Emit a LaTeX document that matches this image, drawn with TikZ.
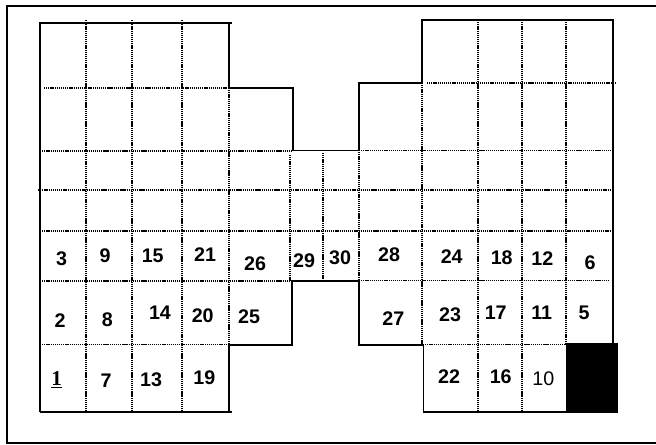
\documentclass[tikz,border=0pt]{standalone}
\usepackage{fontspec}
\setmainfont{Liberation Sans}
\newfontfamily\numserif{Liberation Serif}
\tikzset{
  wall/.style={line width=1.1pt},
  grid line/.style={line width=1.4pt, dash pattern=on 0.9pt off 0.6pt},
  frame/.style={line width=1.8pt},
  num/.style={font=\bfseries\fontsize{14}{16}\selectfont, inner sep=0pt},
}
\begin{document}
\begin{tikzpicture}[x=0.025cm, y=-0.025cm]
\useasboundingbox (0,0) rectangle (656,445);
% frame
\draw[frame] (656,6) -- (7,6) -- (7,443) -- (656,443);
% dotted grid
\draw[grid line] (44,88) -- (229,88);
\draw[grid line] (40,150.7) -- (293,150.7);
\draw[grid line] (359,150.5) -- (612,150.5);
\draw[grid line] (38,190) -- (613,190);
\draw[grid line] (40,230.7) -- (613,230.7);
\draw[grid line] (40,281) -- (292,281);
\draw[grid line] (359,280.5) -- (610,280.5);
\draw[grid line] (40,344.5) -- (229,344.5);
\draw[grid line] (423,344.5) -- (566,344.5);
\draw[grid line] (427,82.7) -- (615,82.7);
\draw[grid line] (85.7,20) -- (85.7,412);
\draw[grid line] (132,20) -- (132,412);
\draw[grid line] (181.7,20) -- (181.7,412);
\draw[grid line] (229,88) -- (229,345);
\draw[grid line] (290,155) -- (290,281);
\draw[grid line] (322.7,153) -- (322.7,281);
\draw[grid line] (359,150) -- (359,281);
\draw[grid line] (421.7,83) -- (421.7,345);
\draw[grid line] (478.3,20) -- (478.3,412);
\draw[grid line] (522.3,20) -- (522.3,412);
\draw[grid line] (566,20) -- (566,343);
% outline
\draw[wall] (40,412) -- (40,23) -- (232,23);
\draw[wall] (229,23) -- (229,88) -- (293,88) -- (293,150.7) -- (359,150.7)
  -- (359,83) -- (422,83) -- (422,20) -- (613,20) -- (613,343);
\draw[wall] (40,412) -- (232,412);
\draw[wall] (229,345) -- (229,412);
\draw[wall] (229,345) -- (292,345) -- (292,281) -- (359,281) -- (359,345)
  -- (423.5,345) -- (423.5,412) -- (618,412);
\fill (566,343) rectangle (618,412);
% numbers
\node[num] (n3) at (61.7,258.7) {3};
\node[num] (n9) at (105,255.7) {9};
\node[num] (n15) at (152.7,255.7) {15};
\node[num] (n21) at (205,255) {21};
\node[num] (n26) at (255,264) {26};
\node[num] (n29) at (304,260.7) {29};
\node[num] (n30) at (340,257.7) {30};
\node[num] (n28) at (389,255) {28};
\node[num] (n24) at (451.7,256.7) {24};
\node[num] (n18) at (501.7,257.3) {18};
\node[num] (n12) at (542.3,259) {12};
\node[num] (n6) at (590,262.3) {6};
\node[num] (n2) at (60,320.7) {2};
\node[num] (n8) at (107.3,319.3) {8};
\node[num] (n14) at (160,312.7) {14};
\node[num] (n20) at (202.7,315.7) {20};
\node[num] (n25) at (249,316.7) {25};
\node[num] (n27) at (393.3,318.3) {27};
\node[num] (n23) at (450,315) {23};
\node[num] (n17) at (495.7,312.7) {17};
\node[num] (n11) at (541.7,312.7) {11};
\node[num] (n5) at (584,312.7) {5};
\node[num, anchor=base] (n1) at (56.7,385) {\numserif\fontsize{15}{16}\selectfont\underline{1}};
\node[num] (n7) at (106,380.7) {7};
\node[num] (n13) at (151,379.3) {13};
\node[num] (n19) at (204.3,377.3) {19};
\node[num] (n22) at (449,376.7) {22};
\node[num] (n16) at (500.7,376.7) {16};
\node[num, font=\fontsize{14}{16}\selectfont] (n10) at (543.3,378.3) {10};
\end{tikzpicture}
\end{document}
